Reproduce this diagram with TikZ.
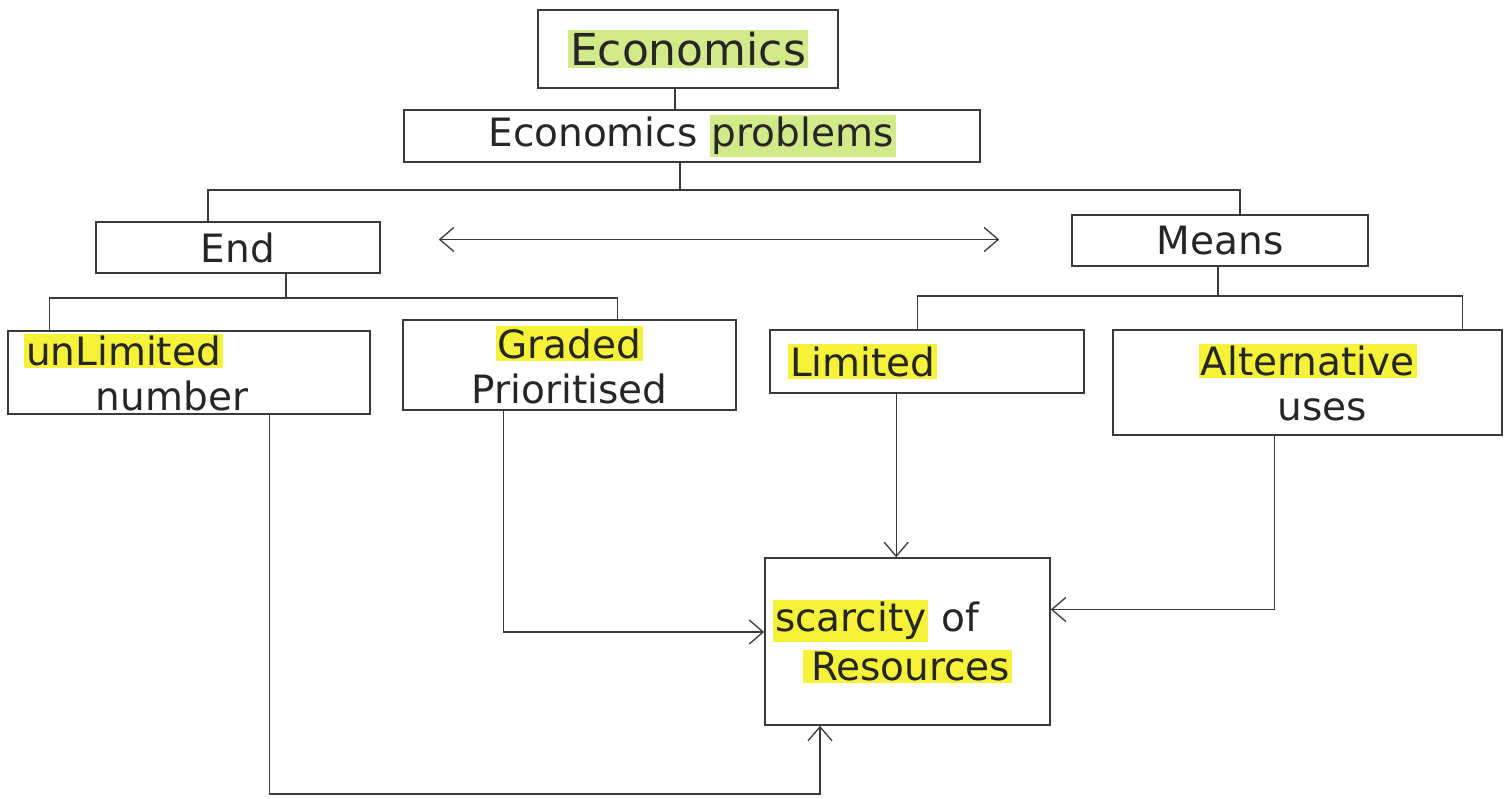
\documentclass[tikz,border=0pt]{standalone}
\usepackage{fontspec}
\setmainfont{DejaVu Sans}
\usetikzlibrary{arrows.meta,calc}
\definecolor{hlyellow}{HTML}{F6F23A}
\definecolor{hlgreen}{HTML}{D3EA8A}
\definecolor{ink}{HTML}{3A3A3A}
\newcommand\hly[1]{{\setlength{\fboxsep}{2pt}\colorbox{hlyellow}{\vphantom{A}#1}}}
\newcommand\hlg[1]{{\setlength{\fboxsep}{2pt}\colorbox{hlgreen}{\vphantom{A}#1}}}
\begin{document}
\begin{tikzpicture}[x=1pt,y=-1pt,
  box/.style={draw=ink, line width=1.6pt, inner xsep=8pt, inner ysep=3pt, text=black!85,
    font=\fontsize{39}{45}\selectfont},
  conn/.style={draw=ink, line width=1.4pt},
  arr/.style={conn, -{Straight Barb[length=14pt,width=24pt,line width=1.3pt]}},
  darr/.style={conn, {Straight Barb[length=14pt,width=24pt,line width=1.3pt]}-{Straight Barb[length=14pt,width=24pt,line width=1.3pt]}}]
\useasboundingbox[fill=white] (0,0) rectangle (1506,798);

% nodes
\node[box, minimum width=300pt, minimum height=78pt, font=\fontsize{44}{50}\selectfont] (eco) at (688,49) {\hlg{Economics}};
\node[box, minimum width=576pt, minimum height=52pt] (prob) at (692,136) {Economics \hlg{problems}};
\node[box, minimum width=284pt, minimum height=51pt] (endn) at (238,247.5) {End};
\node[box, minimum width=296pt, minimum height=51pt] (means) at (1220,240.5) {Means};
\node[box, text width=346pt, align=left, minimum height=79pt] (unl) at (189,372.5)
  {\hspace*{8pt}\hly{unLimited}\\\hspace*{80pt}number};
\node[box, minimum width=333pt, minimum height=90pt, align=center] (grad) at (569.5,365)
  {\hly{Graded}\\Prioritised};
\node[box, text width=298pt, align=left, minimum height=63pt] (lim) at (927,361.5)
  {\hspace*{10pt}\hly{Limited}};
\node[box, minimum width=389pt, minimum height=105pt, align=center] (alt) at (1307.5,382.5)
  {\hly{Alternative}\\\hspace*{30pt}uses};
\node[box, text width=269pt, align=left, minimum height=167pt] (scar) at (907.5,641.5)
  {\hly{scarcity} of\\[4pt]\hspace*{30pt}\hly{\hspace*{6pt}Resources}};

% tree connectors
\draw[conn] (eco.south -| 675,0) -- (prob.north -| 675,0);
\coordinate (b1) at (680,190);
\draw[conn] (prob.south -| b1) -- (b1);
\draw[conn] ($(endn.north)+(-30,0)$) |- (b1) -| ($(means.north)+(20,0)$);
\coordinate (b2) at (286,298);
\draw[conn] (endn.south -| b2) -- (b2);
\draw[conn] ($(unl.north west)+(42,0)$) |- (b2) -| ($(grad.north west)+(215,0)$);
\coordinate (b3) at (1218,296);
\draw[conn] (means.south -| b3) -- (b3);
\draw[conn] ($(lim.north west)+(148,0)$) |- (b3) -| ($(alt.north west)+(350,0)$);

% double arrow between End and Means
\coordinate (dl) at ($(endn.east)+(58,-8)$);
\coordinate (dr) at ($(means.west)+(-72,-1)$);
\draw[darr] (dl) -- (dr);

% arrows into scarcity
\draw[arr] ($(lim.south west)+(127,0)$) -- ($(scar.north west)+(132,0)$);
\draw[arr] ($(grad.south west)+(101,0)$) |- ($(scar.west)+(0,-9.5)$);
\draw[arr] ($(alt.south west)+(162,0)$) |- ($(scar.east)+(0,-32)$);
\coordinate (c4) at (820,794);
\draw[arr] ($(unl.south west)+(262,0)$) |- (c4) -- (c4 |- scar.south);
\end{tikzpicture}
\end{document}
